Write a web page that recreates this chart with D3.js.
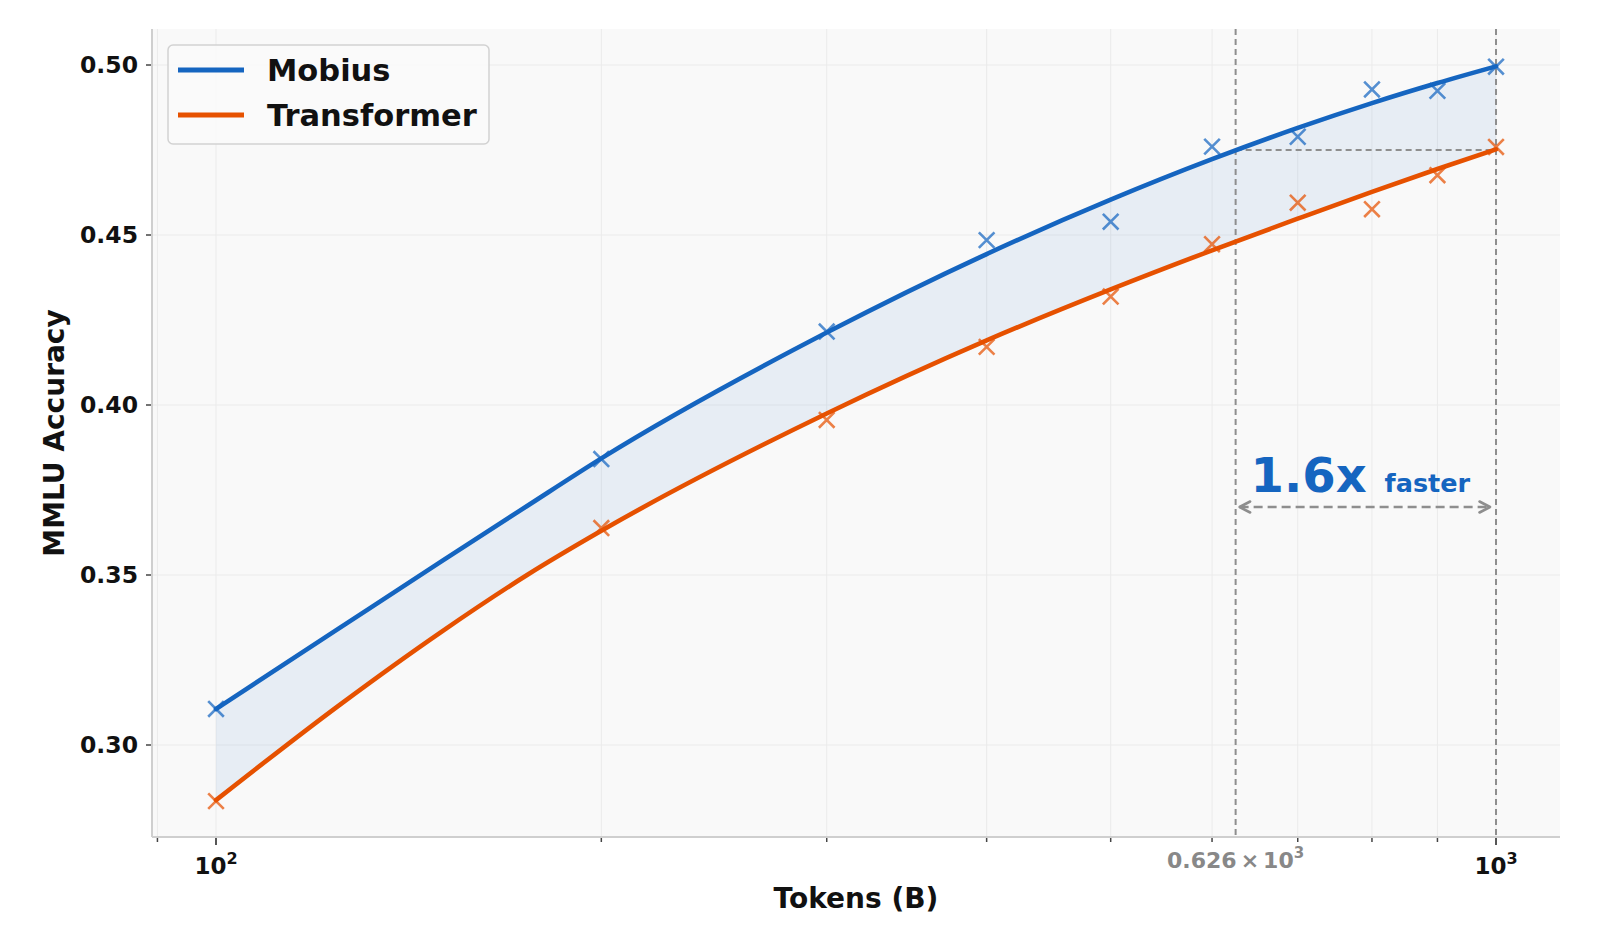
<!DOCTYPE html>
<html>
<head>
<meta charset="utf-8">
<script src="https://cdn.jsdelivr.net/npm/d3@7"></script>
<style>
  html, body { margin: 0; padding: 0; background: #ffffff; }
  svg { display: block; font-family: "DejaVu Sans", sans-serif; }
</style>
</head>
<body>
<svg id="chart" width="1614" height="932"></svg>
<script>
// ---------------- data ----------------
const tokens = [100, 200, 300, 400, 500, 600, 700, 800, 900, 1000];
const mobiusAcc = [0.3106, 0.3841, 0.4216, 0.4485, 0.4539, 0.4760, 0.4789, 0.4928, 0.4924, 0.4995];
const transformerAcc = [0.2835, 0.3638, 0.3956, 0.4171, 0.4319, 0.4473, 0.4595, 0.4576, 0.4676, 0.4759];

// fitted trend curves
const fitTokens = [100, 125, 150, 175, 200, 300, 400, 500, 600, 700, 800, 900, 1000];
const mobiusFit = [0.3106, 0.3345, 0.3540, 0.3703, 0.3843, 0.4213, 0.4444, 0.4604, 0.4723, 0.4815, 0.4888, 0.4947, 0.4996];
const transformerFit = [0.2838, 0.3119, 0.3333, 0.3500, 0.3630, 0.3975, 0.4190, 0.4340, 0.4455, 0.4548, 0.4627, 0.4694, 0.4752];

const seriesNames = ["Mobius", "Transformer"];
const yTicks = [0.30, 0.35, 0.40, 0.45, 0.50];
const yTickLabels = ["0.30", "0.35", "0.40", "0.45", "0.50"];
const xMajorTicks = [100, 1000];
const xMajorLabels = [["10", "2"], ["10", "3"]];
const xMinorTicks = [90, 200, 300, 400, 500, 600, 700, 800, 900];
const matchTokens = 626;         // where Mobius reaches Transformer's final accuracy
const matchLabel = ["0.626", "×", "10", "3"];
const targetAcc = 0.475;          // Transformer's final accuracy
const speedupText = "1.6x";
const speedupSub = "faster";
const xTitle = "Tokens (B)";
const yTitle = "MMLU Accuracy";

// ---------------- layout ----------------
const W = 1614, H = 932;
const plot = { left: 152, right: 1560, top: 29, bottom: 837 };
const colors = { mobius: "#1565C0", transformer: "#E65100" };

const svg = d3.select("#chart");
svg.append("rect").attr("width", W).attr("height", H).attr("fill", "#ffffff");

const x = d3.scaleLog().domain([89.125, 1122]).range([plot.left, plot.right]);
const y = d3.scaleLinear().domain([0.27294, 0.51059]).range([plot.bottom, plot.top]);

// axes background
svg.append("rect")
  .attr("x", plot.left).attr("y", plot.top)
  .attr("width", plot.right - plot.left).attr("height", plot.bottom - plot.top)
  .attr("fill", "#f9f9f9");

// grid
const grid = svg.append("g").attr("stroke", "#ebebeb").attr("stroke-width", 1);
yTicks.forEach(t => grid.append("line")
  .attr("x1", plot.left).attr("x2", plot.right).attr("y1", y(t)).attr("y2", y(t)));
xMajorTicks.concat(xMinorTicks).forEach(t => grid.append("line")
  .attr("y1", plot.top).attr("y2", plot.bottom).attr("x1", x(t)).attr("x2", x(t)));

// fill between fitted curves
const fitRows = fitTokens.map((t, i) => ({ t, m: mobiusFit[i], tr: transformerFit[i] }));
const area = d3.area()
  .x(d => x(d.t)).y0(d => y(d.tr)).y1(d => y(d.m))
  .curve(d3.curveMonotoneX);
svg.append("path").datum(fitRows).attr("d", area)
  .attr("fill", colors.mobius).attr("fill-opacity", 0.08);

// reference dashed lines
const ref = svg.append("g").attr("stroke", "#8e8e8e").attr("stroke-width", 2)
  .attr("stroke-dasharray", "6,4").attr("fill", "none");
ref.append("line").attr("x1", x(matchTokens)).attr("x2", x(matchTokens))
  .attr("y1", plot.top).attr("y2", plot.bottom);
ref.append("line").attr("x1", x(1000)).attr("x2", x(1000))
  .attr("y1", plot.top).attr("y2", plot.bottom);
ref.append("line").attr("x1", x(matchTokens)).attr("x2", x(1000))
  .attr("y1", y(targetAcc)).attr("y2", y(targetAcc));

// fitted lines
const line = d3.line().x(d => x(d[0])).y(d => y(d[1])).curve(d3.curveMonotoneX);
svg.append("path").datum(fitTokens.map((t, i) => [t, transformerFit[i]]))
  .attr("d", line).attr("fill", "none").attr("stroke", colors.transformer)
  .attr("stroke-width", 4.6).attr("stroke-linecap", "round");
svg.append("path").datum(fitTokens.map((t, i) => [t, mobiusFit[i]]))
  .attr("d", line).attr("fill", "none").attr("stroke", colors.mobius)
  .attr("stroke-width", 4.6).attr("stroke-linecap", "round");

// x markers
function drawMarkers(vals, color) {
  const g = svg.append("g").attr("stroke", color).attr("stroke-width", 2.6)
    .attr("stroke-opacity", 0.72);
  const s = 7.8;
  tokens.forEach((t, i) => {
    const cx = x(t), cy = y(vals[i]);
    g.append("path").attr("d", `M${cx - s},${cy - s}L${cx + s},${cy + s}M${cx - s},${cy + s}L${cx + s},${cy - s}`);
  });
}
drawMarkers(transformerAcc, colors.transformer);
drawMarkers(mobiusAcc, colors.mobius);

// spines
svg.append("line").attr("x1", plot.left).attr("x2", plot.left)
  .attr("y1", plot.top).attr("y2", plot.bottom).attr("stroke", "#cfcfcf").attr("stroke-width", 2);
svg.append("line").attr("x1", plot.left).attr("x2", plot.right)
  .attr("y1", plot.bottom).attr("y2", plot.bottom).attr("stroke", "#cfcfcf").attr("stroke-width", 2);

// y axis ticks + labels
const yAxis = svg.append("g");
yTicks.forEach((t, i) => {
  yAxis.append("line").attr("x1", plot.left - 6).attr("x2", plot.left - 1)
    .attr("y1", y(t)).attr("y2", y(t)).attr("stroke", "#444").attr("stroke-width", 1.5);
  yAxis.append("text").attr("x", plot.left - 14).attr("y", y(t))
    .attr("dy", "0.36em").attr("text-anchor", "end")
    .attr("font-size", 23.5).attr("font-weight", "bold").attr("fill", "#111")
    .text(yTickLabels[i]);
});

// x axis ticks + labels
const xAxis = svg.append("g");
xMinorTicks.forEach(t => xAxis.append("line")
  .attr("x1", x(t)).attr("x2", x(t)).attr("y1", plot.bottom + 1).attr("y2", plot.bottom + 5)
  .attr("stroke", "#444").attr("stroke-width", 1.5));
xMajorTicks.forEach((t, i) => {
  xAxis.append("line").attr("x1", x(t)).attr("x2", x(t))
    .attr("y1", plot.bottom + 1).attr("y2", plot.bottom + 8)
    .attr("stroke", "#444").attr("stroke-width", 1.8);
  const tx = xAxis.append("text").attr("x", x(t)).attr("y", plot.bottom + 37)
    .attr("text-anchor", "middle").attr("font-size", 23).attr("font-weight", "bold").attr("fill", "#111");
  tx.append("tspan").text(xMajorLabels[i][0]);
  tx.append("tspan").attr("dy", -10).attr("font-size", 16).text(xMajorLabels[i][1]);
});
// highlighted matched-token label
const ml = xAxis.append("text").attr("x", x(matchTokens)).attr("y", plot.bottom + 31)
  .attr("text-anchor", "middle").attr("font-size", 22).attr("fill", "#888").attr("font-weight", "600");
ml.append("tspan").text(matchLabel[0]);
ml.append("tspan").attr("dx", 4).text(matchLabel[1]);
ml.append("tspan").attr("dx", 4).text(matchLabel[2]);
ml.append("tspan").attr("dy", -10).attr("font-size", 15).text(matchLabel[3]);

// axis titles
svg.append("text").attr("x", (plot.left + plot.right) / 2).attr("y", 908)
  .attr("text-anchor", "middle").attr("font-size", 28).attr("font-weight", "bold").attr("fill", "#111")
  .text(xTitle);
svg.append("text").attr("transform", `translate(64,${(plot.top + plot.bottom) / 2}) rotate(-90)`)
  .attr("text-anchor", "middle").attr("font-size", 28).attr("font-weight", "bold").attr("fill", "#111")
  .text(yTitle);

// speedup annotation
const defs = svg.append("defs");
defs.append("marker").attr("id", "arrowhead")
  .attr("viewBox", "0 0 14 14").attr("refX", 12.5).attr("refY", 7)
  .attr("markerWidth", 14).attr("markerHeight", 14).attr("markerUnits", "userSpaceOnUse")
  .attr("orient", "auto-start-reverse")
  .append("path").attr("d", "M2,1.5 L12.5,7 L2,12.5").attr("fill", "none")
  .attr("stroke", "#8e8e8e").attr("stroke-width", 2.6).attr("stroke-linecap", "round")
  .attr("stroke-linejoin", "round");
const arrowY = 507;
svg.append("line")
  .attr("x1", x(matchTokens) + 4).attr("x2", x(1000) - 6)
  .attr("y1", arrowY).attr("y2", arrowY)
  .attr("stroke", "#8e8e8e").attr("stroke-width", 2.6).attr("stroke-dasharray", "9,5")
  .attr("marker-start", "url(#arrowhead)").attr("marker-end", "url(#arrowhead)");
const sp = svg.append("text").attr("x", x(matchTokens) + 15).attr("y", 492)
  .attr("font-weight", "bold").attr("fill", colors.mobius);
sp.append("tspan").attr("font-size", 48).text(speedupText);
sp.append("tspan").attr("dx", 18).attr("font-size", 25.5).text(speedupSub);

// legend
const lg = svg.append("g");
lg.append("rect").attr("x", 168).attr("y", 45).attr("width", 321).attr("height", 99)
  .attr("rx", 5).attr("fill", "#fafafa").attr("fill-opacity", 0.9)
  .attr("stroke", "#d2d2d2").attr("stroke-width", 1.5);
[[seriesNames[0], colors.mobius, 70], [seriesNames[1], colors.transformer, 115]].forEach(([name, c, ly]) => {
  lg.append("line").attr("x1", 178).attr("x2", 244).attr("y1", ly).attr("y2", ly)
    .attr("stroke", c).attr("stroke-width", 5);
  lg.append("text").attr("x", 267).attr("y", ly).attr("dy", "0.36em")
    .attr("font-size", 30.5).attr("font-weight", "bold").attr("fill", "#111").text(name);
});
</script>
</body>
</html>
